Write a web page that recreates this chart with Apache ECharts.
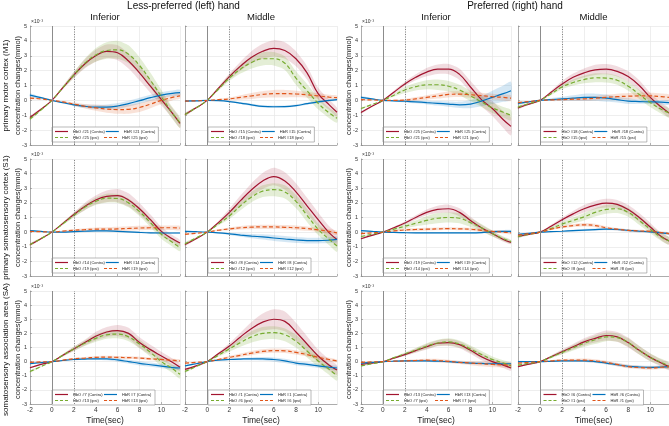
<!DOCTYPE html>
<html><head><meta charset="utf-8">
<script src="https://cdn.jsdelivr.net/npm/echarts@6/dist/echarts.min.js"></script>
<style>html,body{margin:0;padding:0;background:#fff}#c{width:669px;height:426px}</style>
</head><body><div id="c"></div>
<script>
// ---------- labels ----------
const TIME = [-2,-1,0,1,2,3,4,5,6,7,8,9,10,11,11.7];
const X_TICKS = [-2,0,2,4,6,8,10];
const Y_TICKS = [-3,-2,-1,0,1,2,3,4,5];
const HAND_TITLES = ['Less-preferred (left) hand','Preferred (right) hand'];
const COL_TITLES = ['Inferior','Middle','Inferior','Middle'];
const ROW_LABELS = ['primary motor cortex (M1)','primary somatosensory cortex (S1)','somatosensory association area (SA)'];
const Y_NAME = 'concentration changes(mmol)';
const X_NAME = 'Time(sec)';
const SCALE_LABEL = '\u00d710\u207b\u00b3';
const CONTRA_CH = [[21,15,25,18],[14,8,19,12],[7,1,13,6]];
const IPSI_CH   = [[25,18,21,15],[19,12,14,8],[13,6,7,1]];

// ---------- row 1 (M1) ----------
const r1c1_hboC = [-1.15,-0.6,0,0.85,1.7,2.45,3.0,3.3,3.2,2.65,1.85,0.95,0.05,-0.85,-1.55];
const r1c1_hboC_sd = [0.12,0.06,0,0.1,0.2,0.3,0.4,0.45,0.5,0.5,0.5,0.45,0.4,0.35,0.3];
const r1c1_hbrC = [0.35,0.18,0,-0.15,-0.3,-0.4,-0.45,-0.45,-0.38,-0.22,-0.02,0.18,0.35,0.47,0.52];
const r1c1_hbrC_sd = [0.12,0.06,0,0.05,0.1,0.12,0.15,0.17,0.2,0.2,0.2,0.2,0.2,0.2,0.2];
const r1c1_hboI = [-1.25,-0.65,0,0.85,1.7,2.5,3.05,3.35,3.4,3.1,2.35,1.35,0.25,-0.85,-1.5];
const r1c1_hboI_sd = [0.1,0.05,0,0.1,0.2,0.3,0.45,0.55,0.6,0.6,0.55,0.5,0.45,0.4,0.35];
const r1c1_hbrI = [0.15,0.1,0,-0.1,-0.25,-0.4,-0.5,-0.58,-0.62,-0.6,-0.48,-0.25,0.0,0.2,0.3];
const r1c1_hbrI_sd = [0.08,0.04,0,0.05,0.1,0.15,0.2,0.25,0.28,0.3,0.3,0.28,0.25,0.2,0.18];

const r1c2_hboC = [-0.95,-0.5,0,0.8,1.6,2.3,2.9,3.3,3.5,3.35,2.8,1.85,0.45,-0.3,-0.8];
const r1c2_hboC_sd = [0.1,0.05,0,0.1,0.2,0.3,0.4,0.5,0.55,0.55,0.5,0.45,0.4,0.35,0.3];
const r1c2_hbrC = [-0.05,-0.03,0,-0.02,-0.08,-0.18,-0.3,-0.4,-0.43,-0.42,-0.35,-0.22,-0.1,0.0,0.05];
const r1c2_hbrC_sd = [0.05,0.03,0,0.03,0.05,0.07,0.08,0.08,0.08,0.08,0.08,0.08,0.08,0.07,0.07];
const r1c2_hboI = [-0.95,-0.5,0,0.75,1.5,2.1,2.55,2.8,2.8,2.5,1.5,0.65,-0.2,-0.85,-1.2];
const r1c2_hboI_sd = [0.1,0.05,0,0.1,0.2,0.3,0.4,0.45,0.45,0.45,0.45,0.45,0.4,0.35,0.3];
const r1c2_hbrI = [-0.05,-0.03,0,0.05,0.1,0.2,0.3,0.4,0.45,0.45,0.43,0.38,0.3,0.22,0.18];
const r1c2_hbrI_sd = [0.05,0.03,0,0.05,0.1,0.15,0.2,0.22,0.25,0.25,0.22,0.2,0.18,0.15,0.15];

const r1c3_hboC = [-0.82,-0.4,0,0.55,1.1,1.55,1.9,2.1,2.1,1.75,0.9,0.05,-0.55,-1.3,-1.75];
const r1c3_hboC_sd = [0.08,0.04,0,0.1,0.15,0.2,0.28,0.32,0.35,0.38,0.4,0.45,0.5,0.55,0.6];
const r1c3_hbrC = [0.2,0.1,0,-0.03,-0.06,-0.1,-0.15,-0.2,-0.25,-0.3,-0.25,-0.05,0.2,0.45,0.65];
const r1c3_hbrC_sd = [0.1,0.05,0,0.05,0.08,0.1,0.12,0.15,0.18,0.22,0.28,0.35,0.45,0.55,0.6];
const r1c3_hboI = [-0.55,-0.28,0,0.35,0.7,0.92,1.05,1.05,0.95,0.7,0.3,-0.1,-0.5,-0.8,-1.0];
const r1c3_hboI_sd = [0.06,0.03,0,0.1,0.2,0.25,0.3,0.35,0.35,0.35,0.35,0.35,0.35,0.35,0.35];
const r1c3_hbrI = [0.05,0.03,0,0.0,0.02,0.1,0.2,0.3,0.4,0.42,0.38,0.32,0.25,0.2,0.15];
const r1c3_hbrI_sd = [0.05,0.03,0,0.05,0.08,0.12,0.15,0.18,0.2,0.2,0.2,0.2,0.2,0.2,0.2];

const r1c4_hboC = [-0.5,-0.25,0,0.55,1.1,1.55,1.85,2.05,2.1,1.95,1.6,1.0,0.2,-0.45,-0.85];
const r1c4_hboC_sd = [0.1,0.05,0,0.1,0.2,0.25,0.3,0.35,0.35,0.35,0.35,0.35,0.3,0.3,0.3];
const r1c4_hbrC = [-0.2,-0.1,0,0.05,0.1,0.15,0.2,0.2,0.15,0.05,-0.05,-0.08,-0.1,-0.12,-0.15];
const r1c4_hbrC_sd = [0.1,0.05,0,0.1,0.15,0.2,0.25,0.25,0.25,0.2,0.2,0.15,0.15,0.15,0.15];
const r1c4_hboI = [-0.45,-0.22,0,0.45,0.9,1.2,1.4,1.52,1.5,1.35,0.95,0.4,-0.15,-0.6,-0.85];
const r1c4_hboI_sd = [0.08,0.04,0,0.1,0.15,0.2,0.25,0.3,0.3,0.3,0.3,0.3,0.3,0.3,0.3];
const r1c4_hbrI = [-0.15,-0.08,0,0.03,0.05,0.08,0.1,0.15,0.2,0.25,0.28,0.3,0.3,0.25,0.2];
const r1c4_hbrI_sd = [0.08,0.04,0,0.05,0.08,0.1,0.12,0.15,0.18,0.2,0.22,0.22,0.22,0.22,0.2];

// ---------- row 2 (S1) ----------
const r2c1_hboC = [-0.87,-0.45,0,0.6,1.2,1.75,2.2,2.45,2.5,2.2,1.6,0.85,0.05,-0.45,-0.75];
const r2c1_hboC_sd = [0.08,0.04,0,0.08,0.15,0.25,0.3,0.4,0.45,0.45,0.4,0.35,0.3,0.25,0.2];
const r2c1_hbrC = [0.1,0.05,0,0.0,0.03,0.06,0.08,0.08,0.05,0.02,-0.02,-0.05,-0.06,-0.06,-0.06];
const r2c1_hbrC_sd = [0.05,0.03,0,0.03,0.05,0.06,0.06,0.06,0.06,0.06,0.06,0.06,0.06,0.06,0.06];
const r2c1_hboI = [-0.85,-0.45,0,0.57,1.15,1.7,2.1,2.32,2.3,2.0,1.4,0.65,-0.15,-0.7,-1.05];
const r2c1_hboI_sd = [0.08,0.04,0,0.08,0.15,0.2,0.25,0.3,0.3,0.3,0.3,0.3,0.3,0.28,0.25];
const r2c1_hbrI = [0.05,0.03,0,0.07,0.13,0.17,0.2,0.2,0.22,0.25,0.28,0.3,0.3,0.3,0.28];
const r2c1_hbrI_sd = [0.05,0.03,0,0.04,0.08,0.1,0.12,0.13,0.14,0.15,0.15,0.15,0.15,0.15,0.15];

const r2c2_hboC = [-0.85,-0.45,0,0.65,1.35,2.15,2.9,3.5,3.8,3.5,2.75,1.8,0.85,-0.05,-0.5];
const r2c2_hboC_sd = [0.1,0.05,0,0.1,0.25,0.35,0.45,0.55,0.6,0.6,0.6,0.55,0.5,0.45,0.4];
const r2c2_hbrC = [0.05,0.03,0,-0.05,-0.12,-0.2,-0.27,-0.33,-0.4,-0.47,-0.54,-0.58,-0.58,-0.55,-0.5];
const r2c2_hbrC_sd = [0.05,0.03,0,0.05,0.08,0.12,0.15,0.18,0.2,0.2,0.2,0.2,0.2,0.2,0.2];
const r2c2_hboI = [-0.8,-0.4,0,0.55,1.1,1.8,2.4,2.8,2.9,2.75,2.1,1.15,0.2,-0.5,-0.95];
const r2c2_hboI_sd = [0.1,0.05,0,0.1,0.2,0.3,0.35,0.4,0.45,0.45,0.45,0.45,0.4,0.4,0.4];
const r2c2_hbrI = [-0.15,-0.08,0,0.13,0.22,0.3,0.34,0.36,0.36,0.33,0.3,0.24,0.16,0.05,-0.05];
const r2c2_hbrI_sd = [0.05,0.03,0,0.06,0.1,0.12,0.14,0.15,0.15,0.15,0.15,0.15,0.15,0.15,0.15];

const r2c3_hboC = [-0.45,-0.22,0,0.3,0.62,1.0,1.35,1.55,1.6,1.35,0.8,0.3,-0.1,-0.5,-0.7];
const r2c3_hboC_sd = [0.06,0.03,0,0.06,0.1,0.15,0.2,0.25,0.28,0.28,0.25,0.2,0.18,0.15,0.12];
const r2c3_hbrC = [0.1,0.05,0,-0.02,-0.04,-0.05,-0.05,-0.05,-0.05,-0.05,-0.05,-0.03,0.03,0.05,0.05];
const r2c3_hbrC_sd = [0.05,0.03,0,0.03,0.05,0.06,0.06,0.06,0.06,0.06,0.06,0.06,0.08,0.1,0.1];
const r2c3_hboI = [-0.3,-0.15,0,0.2,0.4,0.6,0.8,0.95,1.0,0.95,0.65,0.3,-0.1,-0.45,-0.65];
const r2c3_hboI_sd = [0.06,0.03,0,0.1,0.15,0.2,0.3,0.35,0.35,0.35,0.3,0.25,0.2,0.15,0.12];
const r2c3_hbrI = [-0.1,-0.05,0,0.08,0.15,0.18,0.2,0.22,0.24,0.22,0.2,0.12,0.05,0.0,-0.05];
const r2c3_hbrI_sd = [0.05,0.03,0,0.05,0.08,0.1,0.1,0.1,0.1,0.1,0.1,0.1,0.1,0.1,0.1];

const r2c4_hboC = [-0.3,-0.15,0,0.4,0.85,1.25,1.6,1.85,1.98,1.9,1.55,1.0,0.35,-0.3,-0.6];
const r2c4_hboC_sd = [0.08,0.04,0,0.1,0.15,0.2,0.25,0.28,0.3,0.3,0.3,0.3,0.28,0.25,0.25];
const r2c4_hbrC = [-0.15,-0.08,0,0.03,0.06,0.1,0.14,0.17,0.2,0.18,0.12,0.06,0.02,-0.05,-0.1];
const r2c4_hbrC_sd = [0.05,0.03,0,0.03,0.05,0.07,0.08,0.08,0.08,0.08,0.08,0.08,0.08,0.08,0.08];
const r2c4_hboI = [-0.3,-0.15,0,0.25,0.55,0.8,1.05,1.35,1.55,1.6,1.35,0.8,0.2,-0.35,-0.6];
const r2c4_hboI_sd = [0.08,0.04,0,0.1,0.15,0.2,0.25,0.28,0.3,0.3,0.3,0.3,0.28,0.25,0.25];
const r2c4_hbrI = [-0.2,-0.1,0,0.2,0.35,0.45,0.5,0.45,0.3,0.2,0.12,0.08,0.05,-0.03,-0.1];
const r2c4_hbrI_sd = [0.05,0.03,0,0.05,0.08,0.1,0.12,0.12,0.1,0.08,0.08,0.08,0.08,0.08,0.08];

// ---------- row 3 (SA) ----------
const r3c1_hboC = [-0.43,-0.2,0,0.45,0.9,1.35,1.8,2.1,2.2,2.0,1.35,0.85,0.4,-0.05,-0.4];
const r3c1_hboC_sd = [0.06,0.03,0,0.08,0.15,0.2,0.3,0.35,0.4,0.4,0.38,0.35,0.3,0.28,0.25];
const r3c1_hbrC = [-0.15,-0.07,0,0.08,0.15,0.18,0.2,0.2,0.12,0.0,-0.12,-0.22,-0.32,-0.42,-0.45];
const r3c1_hbrC_sd = [0.05,0.03,0,0.03,0.05,0.06,0.08,0.1,0.12,0.13,0.15,0.15,0.15,0.15,0.15];
const r3c1_hboI = [-0.7,-0.35,0,0.45,0.9,1.3,1.65,1.9,1.95,1.75,1.25,0.65,0.0,-0.5,-0.9];
const r3c1_hboI_sd = [0.08,0.04,0,0.08,0.15,0.2,0.25,0.28,0.3,0.3,0.3,0.3,0.3,0.3,0.3];
const r3c1_hbrI = [-0.05,-0.02,0,0.1,0.2,0.25,0.3,0.32,0.3,0.28,0.25,0.2,0.15,0.1,0.05];
const r3c1_hbrI_sd = [0.05,0.03,0,0.04,0.06,0.08,0.1,0.1,0.1,0.1,0.1,0.1,0.1,0.1,0.1];

const r3c2_hboC = [-0.55,-0.3,0,0.55,1.1,1.75,2.35,2.8,3.0,2.85,2.1,1.25,0.4,-0.25,-0.6];
const r3c2_hboC_sd = [0.08,0.04,0,0.1,0.2,0.3,0.45,0.6,0.7,0.7,0.65,0.55,0.45,0.4,0.35];
const r3c2_hbrC = [-0.3,-0.15,0,0.1,0.15,0.18,0.2,0.2,0.15,0.05,-0.1,-0.2,-0.3,-0.4,-0.45];
const r3c2_hbrC_sd = [0.05,0.03,0,0.03,0.05,0.08,0.1,0.12,0.15,0.15,0.15,0.15,0.15,0.15,0.15];
const r3c2_hboI = [-0.7,-0.35,0,0.45,0.9,1.35,1.75,2.0,2.05,1.9,1.45,0.75,0.05,-0.55,-1.0];
const r3c2_hboI_sd = [0.08,0.04,0,0.1,0.2,0.3,0.4,0.45,0.45,0.45,0.45,0.45,0.4,0.4,0.35];
const r3c2_hbrI = [-0.1,-0.05,0,0.15,0.3,0.45,0.6,0.72,0.78,0.76,0.65,0.5,0.3,0.15,0.05];
const r3c2_hbrI_sd = [0.05,0.03,0,0.05,0.1,0.12,0.15,0.15,0.15,0.15,0.15,0.15,0.15,0.12,0.1];

const r3c3_hboC = [-0.2,-0.1,0,0.25,0.5,0.78,1.05,1.3,1.35,1.2,0.8,0.35,0.0,-0.25,-0.45];
const r3c3_hboC_sd = [0.05,0.03,0,0.05,0.1,0.15,0.2,0.22,0.25,0.25,0.25,0.25,0.22,0.2,0.2];
const r3c3_hbrC = [-0.1,-0.05,0,0.03,0.05,0.05,0.05,0.03,0.0,-0.05,-0.1,-0.13,-0.15,-0.15,-0.15];
const r3c3_hbrC_sd = [0.05,0.03,0,0.03,0.05,0.06,0.08,0.08,0.08,0.08,0.08,0.08,0.08,0.08,0.08];
const r3c3_hboI = [-0.3,-0.15,0,0.28,0.55,0.82,1.1,1.32,1.4,1.25,0.9,0.5,0.15,-0.1,-0.3];
const r3c3_hboI_sd = [0.05,0.03,0,0.05,0.1,0.15,0.2,0.22,0.25,0.25,0.25,0.25,0.22,0.2,0.2];
const r3c3_hbrI = [-0.05,-0.02,0,0.03,0.05,0.08,0.1,0.08,0.02,-0.05,-0.1,-0.15,-0.2,-0.23,-0.25];
const r3c3_hbrI_sd = [0.05,0.03,0,0.04,0.06,0.08,0.1,0.12,0.12,0.12,0.15,0.18,0.2,0.2,0.2];

const r3c4_hboC = [-0.35,-0.18,0,0.35,0.7,1.05,1.4,1.65,1.85,1.75,1.35,0.8,0.3,-0.1,-0.35];
const r3c4_hboC_sd = [0.06,0.03,0,0.08,0.15,0.2,0.25,0.3,0.35,0.35,0.35,0.3,0.28,0.25,0.25];
const r3c4_hbrC = [0.0,0.0,0,0.02,0.05,0.05,0.05,0.0,-0.1,-0.22,-0.33,-0.38,-0.4,-0.38,-0.35];
const r3c4_hbrC_sd = [0.05,0.03,0,0.03,0.05,0.06,0.08,0.1,0.1,0.1,0.1,0.1,0.1,0.1,0.1];
const r3c4_hboI = [-0.25,-0.12,0,0.32,0.65,0.98,1.3,1.55,1.75,1.7,1.35,0.8,0.3,-0.05,-0.3];
const r3c4_hboI_sd = [0.06,0.03,0,0.08,0.15,0.2,0.25,0.3,0.3,0.3,0.3,0.3,0.28,0.25,0.25];
const r3c4_hbrI = [-0.1,-0.05,0,0.05,0.1,0.1,0.1,0.05,-0.05,-0.2,-0.35,-0.42,-0.45,-0.4,-0.35];
const r3c4_hbrI_sd = [0.05,0.03,0,0.05,0.08,0.1,0.12,0.12,0.12,0.12,0.12,0.12,0.12,0.12,0.12];

// order per panel: HbO contra, HbR contra, HbO ipsi, HbR ipsi
const PANELS = [
  [[r1c1_hboC,r1c1_hboC_sd],[r1c1_hbrC,r1c1_hbrC_sd],[r1c1_hboI,r1c1_hboI_sd],[r1c1_hbrI,r1c1_hbrI_sd]],
  [[r1c2_hboC,r1c2_hboC_sd],[r1c2_hbrC,r1c2_hbrC_sd],[r1c2_hboI,r1c2_hboI_sd],[r1c2_hbrI,r1c2_hbrI_sd]],
  [[r1c3_hboC,r1c3_hboC_sd],[r1c3_hbrC,r1c3_hbrC_sd],[r1c3_hboI,r1c3_hboI_sd],[r1c3_hbrI,r1c3_hbrI_sd]],
  [[r1c4_hboC,r1c4_hboC_sd],[r1c4_hbrC,r1c4_hbrC_sd],[r1c4_hboI,r1c4_hboI_sd],[r1c4_hbrI,r1c4_hbrI_sd]],
  [[r2c1_hboC,r2c1_hboC_sd],[r2c1_hbrC,r2c1_hbrC_sd],[r2c1_hboI,r2c1_hboI_sd],[r2c1_hbrI,r2c1_hbrI_sd]],
  [[r2c2_hboC,r2c2_hboC_sd],[r2c2_hbrC,r2c2_hbrC_sd],[r2c2_hboI,r2c2_hboI_sd],[r2c2_hbrI,r2c2_hbrI_sd]],
  [[r2c3_hboC,r2c3_hboC_sd],[r2c3_hbrC,r2c3_hbrC_sd],[r2c3_hboI,r2c3_hboI_sd],[r2c3_hbrI,r2c3_hbrI_sd]],
  [[r2c4_hboC,r2c4_hboC_sd],[r2c4_hbrC,r2c4_hbrC_sd],[r2c4_hboI,r2c4_hboI_sd],[r2c4_hbrI,r2c4_hbrI_sd]],
  [[r3c1_hboC,r3c1_hboC_sd],[r3c1_hbrC,r3c1_hbrC_sd],[r3c1_hboI,r3c1_hboI_sd],[r3c1_hbrI,r3c1_hbrI_sd]],
  [[r3c2_hboC,r3c2_hboC_sd],[r3c2_hbrC,r3c2_hbrC_sd],[r3c2_hboI,r3c2_hboI_sd],[r3c2_hbrI,r3c2_hbrI_sd]],
  [[r3c3_hboC,r3c3_hboC_sd],[r3c3_hbrC,r3c3_hbrC_sd],[r3c3_hboI,r3c3_hboI_sd],[r3c3_hbrI,r3c3_hbrI_sd]],
  [[r3c4_hboC,r3c4_hboC_sd],[r3c4_hbrC,r3c4_hbrC_sd],[r3c4_hboI,r3c4_hboI_sd],[r3c4_hbrI,r3c4_hbrI_sd]]
];

// ---------- styling / layout ----------
const FONT = '"Liberation Sans", Arial, Helvetica, sans-serif';
const DASH_ICON = 'path://M0 0h4v1h-4zM6.5 0h4v1h-4zM13 0h4v1h-4z';
const STY = [
  {color:'#A2142F', dash:'solid', icon:'rect', band:'rgba(162,20,47,0.15)'},
  {color:'#0072BD', dash:'solid', icon:'rect', band:'rgba(0,114,189,0.17)'},
  {color:'#77AC30', dash:[4,2.5], icon:DASH_ICON, band:'rgba(119,172,48,0.2)'},
  {color:'#E0561B', dash:[4,2.5], icon:DASH_ICON, band:'rgba(217,83,25,0.17)'}
];
const COL_L = [30,185,361,518], COL_W = [150,152,150,151];
const ROW_T = [26,159,291], ROW_H = [119,117,117];

const grids=[], xAxes=[], yAxes=[], series=[], legends=[], graphics=[];
for (let r=0;r<3;r++) for (let c=0;c<4;c++) {
  const gi = r*4+c;
  const labY = (c===0||c===2);
  grids.push({left:COL_L[c], top:ROW_T[r], width:COL_W[c], height:ROW_H[r]});
  xAxes.push({type:'value', gridIndex:gi, min:-2, max:11.7, interval:2,
    axisLine:{show:true, onZero:false, lineStyle:{color:'#9a9a9a', width:0.8}},
    axisTick:{show:true, inside:true, length:2, lineStyle:{color:'#888', width:0.6}},
    axisLabel:{show:r===2, fontSize:6.5, color:'#333', margin:3, fontFamily:FONT, showMaxLabel:false,
      formatter:v=>X_TICKS.includes(v)?String(v):''},
    splitLine:{show:true, lineStyle:{color:'#e6e6e6', width:0.7}},
    name: r===2 ? X_NAME : '', nameLocation:'middle', nameGap:12,
    nameTextStyle:{fontSize:8.5, color:'#222', fontFamily:FONT}});
  yAxes.push({type:'value', gridIndex:gi, min:-3, max:5, interval:1,
    axisLine:{show:true, onZero:false, lineStyle:{color:'#9a9a9a', width:0.8}},
    axisTick:{show:true, inside:true, length:2, lineStyle:{color:'#888', width:0.6}},
    axisLabel:{show:labY, fontSize:5.5, color:'#333', margin:3, fontFamily:FONT,
      formatter:v=>Y_TICKS.includes(v)?String(v):''},
    splitLine:{show:true, lineStyle:{color:'#e6e6e6', width:0.7}}});

  const names = [
    'HbO #'+CONTRA_CH[r][c]+' (Contra)', 'HbR #'+CONTRA_CH[r][c]+' (Contra)',
    'HbO #'+IPSI_CH[r][c]+' (ipsi)', 'HbR #'+IPSI_CH[r][c]+' (ipsi)'];
  PANELS[gi].forEach(([mean, sd], k) => {
    const st = STY[k];
    series.push({type:'custom', xAxisIndex:gi, yAxisIndex:gi, silent:true, z:1,
      data:[[TIME[0], mean[0]]],
      renderItem:(params, api) => {
        const up = TIME.map((t,i)=>api.coord([t, mean[i]+sd[i]]));
        const lo = TIME.map((t,i)=>api.coord([t, mean[i]-sd[i]])).reverse();
        return {type:'polygon', shape:{points:up.concat(lo), smooth:0.25}, style:{fill:st.band, stroke:null}};
      }});
  });
  PANELS[gi].forEach(([mean], k) => {
    const st = STY[k];
    const s = {type:'line', name:names[k], xAxisIndex:gi, yAxisIndex:gi,
      data: mean.map((v,i)=>[TIME[i], v]), symbol:'none', smooth:0.4,
      lineStyle:{color:st.color, width:1.2, type:st.dash}, itemStyle:{color:st.color}, z:3};
    if (k===0) {
      s.markLine = {silent:true, symbol:'none', label:{show:false}, animation:false,
        data:[{xAxis:0, lineStyle:{color:'#8c8c8c', width:1, type:'solid'}},
              {xAxis:2, lineStyle:{color:'#666', width:0.8, type:[1,1.5]}}]};
    }
    series.push(s);
  });
  const cx = COL_L[c] + COL_W[c]/2;
  legends.push({data:names.map((n,k)=>({name:n, icon:STY[k].icon})), left: cx-53, top: ROW_T[r]+ROW_H[r]-18,
    orient:'horizontal', width:104,
    itemWidth:13, itemHeight:1.2, itemGap:1, padding:[2,3], selectedMode:false,
    borderColor:'#8a8a8a', borderWidth:0.6, backgroundColor:'#fff',
    textStyle:{fontSize:4, width:30, overflow:'none', color:'#222', fontFamily:FONT, lineHeight:5}});
  if (labY) {
    graphics.push({type:'text', left:COL_L[c]+1, top:ROW_T[r]-7,
      style:{text:SCALE_LABEL, fontSize:5, fill:'#333', fontFamily:FONT}});
    graphics.push({type:'text', x:COL_L[c]-12, y:ROW_T[r]+ROW_H[r]/2, rotation:Math.PI/2,
      style:{text:Y_NAME, fontSize:7.5, fill:'#222', fontFamily:FONT, textAlign:'center', textVerticalAlign:'middle'}});
  }
}
// hand titles and column titles
graphics.push({type:'text', x:(COL_L[0]+COL_L[1]+COL_W[1])/2, y:6,
  style:{text:HAND_TITLES[0], fontSize:10, fill:'#111', fontFamily:FONT, textAlign:'center', textVerticalAlign:'middle'}});
graphics.push({type:'text', x:(COL_L[2]+COL_L[3]+COL_W[3])/2, y:6,
  style:{text:HAND_TITLES[1], fontSize:10, fill:'#111', fontFamily:FONT, textAlign:'center', textVerticalAlign:'middle'}});
for (let c=0;c<4;c++) {
  graphics.push({type:'text', x:COL_L[c]+COL_W[c]/2, y:17,
    style:{text:COL_TITLES[c], fontSize:9.5, fill:'#111', fontFamily:FONT, textAlign:'center', textVerticalAlign:'middle'}});
}
for (let r=0;r<3;r++) {
  graphics.push({type:'text', x:6, y:ROW_T[r]+ROW_H[r]/2, rotation:Math.PI/2,
    style:{text:ROW_LABELS[r], fontSize:8, fill:'#111', fontFamily:FONT, textAlign:'center', textVerticalAlign:'middle'}});
}

const chart = echarts.init(document.getElementById('c'), null, {renderer:'canvas'});
chart.setOption({animation:false, backgroundColor:'#fff', grid:grids, xAxis:xAxes, yAxis:yAxes,
  legend:legends, series:series, graphic:graphics});
</script></body></html>
